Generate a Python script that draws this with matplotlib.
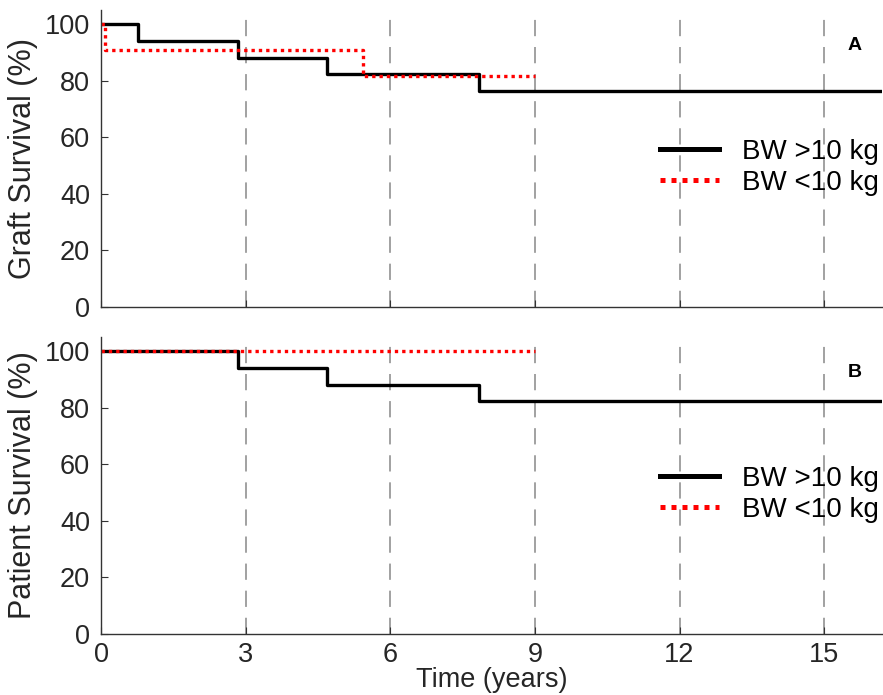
import matplotlib.pyplot as plt
import numpy as np

plt.rcParams['font.family'] = ['Liberation Sans', 'DejaVu Sans']

# Kaplan-Meier step data (time in years, survival in %)
graft_hi_t = [0, 0.77, 2.84, 4.68, 7.85, 16.2]
graft_hi_s = [100, 94.1, 88.2, 82.4, 76.5, 76.5]
graft_lo_t = [0, 0.08, 5.43, 9.0]
graft_lo_s = [100, 90.9, 81.8, 81.8]

pat_hi_t = [0, 2.84, 4.68, 7.85, 16.2]
pat_hi_s = [100, 94.1, 88.2, 82.4, 82.4]
pat_lo_t = [0, 9.0]
pat_lo_s = [100, 100]

xticks = [0, 3, 6, 9, 12, 15]
yticks = [0, 20, 40, 60, 80, 100]

fig = plt.figure(figsize=(8.83, 6.95), dpi=100)
ax1 = fig.add_axes([0.1144, 0.5583, 0.8845, 0.4273])
ax2 = fig.add_axes([0.1144, 0.0878, 0.8845, 0.4273])

panels = [
    (ax1, graft_hi_t, graft_hi_s, graft_lo_t, graft_lo_s, "Graft Survival (%)", "A"),
    (ax2, pat_hi_t, pat_hi_s, pat_lo_t, pat_lo_s, "Patient Survival (%)", "B"),
]

for ax, ht, hs, lt, ls, ylab, tag in panels:
    for x in xticks[1:]:
        ax.axvline(x, color="#9a9a9a", lw=1.3, ls=(0, (9, 6)), zorder=0)
    ax.step(ht, hs, where="post", color="black", lw=2.4, label="BW >10 kg")
    ax.step(lt, ls, where="post", color="red", lw=2.4, ls=(0, (1, 1.2)),
            label="BW <10 kg")
    ax.set_xlim(0, 16.2)
    ax.set_ylim(0, 105)
    ax.set_xticks(xticks)
    ax.set_yticks(yticks)
    ax.spines["top"].set_visible(False)
    ax.spines["right"].set_visible(False)
    for s in ("left", "bottom"):
        ax.spines[s].set_color("#333333")
        ax.spines[s].set_linewidth(1.0)
    ax.tick_params(direction="in", length=5, colors="#333333",
                   labelcolor="#262626", labelsize=19.5, pad=8)
    ax.set_ylabel(ylab, fontsize=22, color="#262626", labelpad=5)
    ax.text(0.965, 0.882, tag, transform=ax.transAxes, fontsize=14,
            fontweight="bold", ha="center", va="center")
    leg = ax.legend(loc="center right", bbox_to_anchor=(1.0, 0.47), frameon=False,
                    fontsize=20, handlelength=2.1, labelspacing=0.17,
                    handletextpad=0.85, borderaxespad=0.0, borderpad=0.1)
    # thicker sample lines in the legend
    for h in leg.get_lines():
        h.set_linewidth(3.6)

ax1.tick_params(labelbottom=False)
ax2.tick_params(axis="x", pad=6)
ax2.set_xlabel("Time (years)", fontsize=19.5, color="#262626", labelpad=-1)

fig.savefig("out.png", dpi=100)
